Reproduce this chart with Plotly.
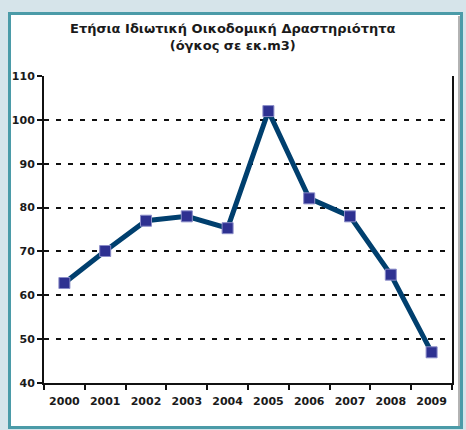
import plotly.graph_objects as go

years = ["2000", "2001", "2002", "2003", "2004", "2005", "2006", "2007", "2008", "2009"]
values = [62.8, 70.1, 77.0, 78.0, 75.3, 102.0, 82.1, 78.0, 64.7, 47.0]
y_ticks = [40, 50, 60, 70, 80, 90, 100, 110]

W, H = 466, 430
L, R, T, B = 44, 14, 76, 47
pw, ph = W - L - R, H - T - B

def px(x):
    return (x - L) / pw

def py(y):
    return (H - B - y) / ph

fig = go.Figure()
fig.add_trace(go.Scatter(
    x=years, y=values, mode="lines+markers",
    line=dict(color="#003f6e", width=5),
    marker=dict(symbol="square", size=11, color="#2e3191",
                line=dict(color="#8a8cc8", width=1)),
    cliponaxis=False, showlegend=False,
))

fig.add_shape(type="rect", xref="paper", yref="paper",
              x0=px(9.5), x1=px(461.5), y0=py(427.5), y1=py(13.5),
              line=dict(color="#4b9ba8", width=3), fillcolor="white", layer="below")
fig.add_shape(type="line", xref="paper", yref="paper",
              x0=px(459), x1=px(459), y0=py(426), y1=py(16),
              line=dict(color="#9a9a9a", width=1.5), layer="below")

fig.add_annotation(text="<b>Ετήσια Ιδιωτική Οικοδομική Δραστηριότητα</b><br><b>(όγκος σε εκ.m3)</b>",
                   xref="paper", yref="paper", x=px(233), y=py(37), xanchor="center", yanchor="middle",
                   showarrow=False, font=dict(family="DejaVu Sans", size=13, color="#1a1a1a"),
                   align="center")

fig.update_layout(
    width=W, height=H,
    margin=dict(l=L, r=R, t=T, b=B, pad=0, autoexpand=False),
    paper_bgcolor="#d6e4ea", plot_bgcolor="white",
    font=dict(family="DejaVu Sans", size=11, color="#1a1a1a"),
)
fig.update_xaxes(
    type="category", range=[-0.5, 9.5], showgrid=False, automargin=False,
    showline=True, linecolor="#111111", linewidth=2,
    ticks="outside", tickson="boundaries", ticklen=5, tickwidth=1.5, tickcolor="#111111",
    tickfont=dict(family="DejaVu Sans", size=11, color="#1a1a1a", weight="bold"),
    ticklabelstandoff=7,
)
fig.update_yaxes(
    range=[40, 110], tickvals=y_ticks, showgrid=True, gridcolor="#111111", gridwidth=2,
    griddash="5px,7px", zeroline=False, automargin=False,
    showline=True, linecolor="#111111", linewidth=2, mirror=True,
    ticks="outside", ticklen=5, tickwidth=1.5, tickcolor="#111111",
    tickfont=dict(family="DejaVu Sans", size=11, color="#1a1a1a", weight="bold"),
)

fig.write_html("out.html", config={"displayModeBar": False},
               post_script="document.body.style.margin='0px';document.body.style.overflow='hidden';")
